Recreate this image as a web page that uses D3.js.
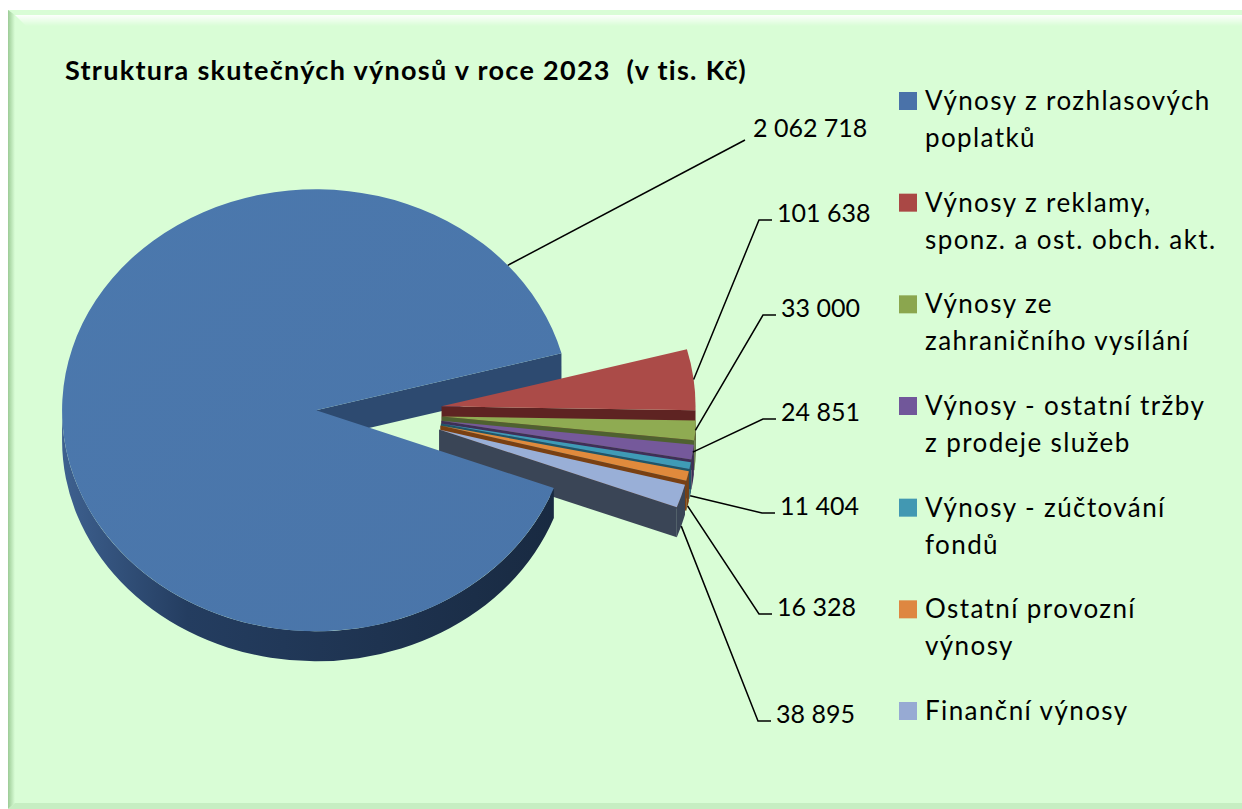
<!DOCTYPE html>
<html>
<head>
<meta charset="utf-8">
<script src="https://cdn.jsdelivr.net/npm/d3@7"></script>
<style>
  body { margin: 0; background: #ffffff; }
  svg { display: block; }
  text { font-family: Lato, "Open Sans", sans-serif; fill: #000; }
</style>
</head>
<body>
<div id="container"></div>
<script>
let w = 1242;
let h = 809;

// DATA
let categories = [
  "Výnosy z rozhlasových poplatků",
  "Výnosy z reklamy, sponz. a ost. obch. akt.",
  "Výnosy ze zahraničního vysílání",
  "Výnosy - ostatní tržby z prodeje služeb",
  "Výnosy - zúčtování fondů",
  "Ostatní provozní výnosy",
  "Finanční výnosy"
];
let legendLines = [
  ["Výnosy z rozhlasových", "poplatků"],
  ["Výnosy z reklamy,", "sponz. a ost. obch. akt."],
  ["Výnosy ze", "zahraničního vysílání"],
  ["Výnosy - ostatní tržby", "z prodeje služeb"],
  ["Výnosy - zúčtování", "fondů"],
  ["Ostatní provozní", "výnosy"],
  ["Finanční výnosy"]
];
let values = [2062718, 101638, 33000, 24851, 11404, 16328, 38895];

// colours (top face, walls, legend)
let faceColors = ["#4a77ab", "#ab4b48", "#8fab52", "#75599b", "#3f9bb6", "#e08a3c", "#99afd7"];
let wallColors = ["#2d4a70", "#5e2322", "#4f6130", "#3f2f57", "#1f5668", "#7a4012", "#3a4556"];
let legendColors = ["#4a72a9", "#aa4845", "#8ba64e", "#71579a", "#4298b2", "#de8741", "#97aad3"];

// label placement (text left x, text middle y)
let labelPos = [
  {x: 753, y: 128, ang: -41, wall: false, tail: false},
  {x: 777, y: 213, wall: false, tail: true},
  {x: 781, y: 308, wall: false, tail: true},
  {x: 781, y: 412, wall: false, tail: true},
  {x: 780, y: 506, wall: true, tail: true},
  {x: 777, y: 607, wall: true, tail: true},
  {x: 776, y: 714, wall: true, tail: true}
];

let viz = d3.select("#container").append("svg")
  .attr("width", w)
  .attr("height", h);

let defs = viz.append("defs");

// FRAME
let lg = defs.append("linearGradient").attr("id", "leftBevel");
lg.append("stop").attr("offset", "0%").attr("stop-color", "#9ccb96");
lg.append("stop").attr("offset", "100%").attr("stop-color", "#d9fdd6");
let tg = defs.append("linearGradient").attr("id", "topBevel")
  .attr("x1", 0).attr("y1", 0).attr("x2", 0).attr("y2", 1);
tg.append("stop").attr("offset", "0%").attr("stop-color", "#ffffff").attr("stop-opacity", 0.95);
tg.append("stop").attr("offset", "100%").attr("stop-color", "#ffffff").attr("stop-opacity", 0);

viz.append("rect").attr("x", 0).attr("y", 0).attr("width", w).attr("height", h).attr("fill", "#ffffff");
viz.append("rect").attr("x", 8).attr("y", 10).attr("width", w - 8).attr("height", h - 10).attr("fill", "#d9fdd6");
viz.append("path").attr("d", "M8,10L15,15L15,803L8,809Z").attr("fill", "url(#leftBevel)");
viz.append("path").attr("d", "M15,15L1242,15L1242,26L26,26Z").attr("fill", "url(#topBevel)");
viz.append("path").attr("d", "M15,803L1242,803L1242,809L8,809Z").attr("fill", "#c6eec2");

// TITLE
viz.append("text")
  .attr("x", 65)
  .attr("y", 80)
  .attr("font-size", 27)
  .attr("font-weight", "bold")
  .attr("letter-spacing", 1.3)
  .style("white-space", "pre")
  .text("Struktura skutečných výnosů v roce 2023  (v tis. Kč)");

// PIE GEOMETRY
let cx0 = 379, cy0 = 413, rx = 254, ry = 221, depth = 30, explode = 63;
let start = 110.6 * Math.PI / 180;
let pie = d3.pie().sort(null).value(d => d).startAngle(start).endAngle(start + 2 * Math.PI);

let slices = pie(values).map(function(a, i) {
  let t0 = a.startAngle - Math.PI / 2;
  let t1 = a.endAngle - Math.PI / 2;
  let tm = (t0 + t1) / 2;
  return {
    i: i, t0: t0, t1: t1, tm: tm,
    cx: cx0 + explode * Math.cos(tm),
    cy: cy0 + explode * (ry / rx) * Math.sin(tm)
  };
});

function P(s, t, dz) {
  return [s.cx + rx * Math.cos(t), s.cy + ry * Math.sin(t) + (dz || 0)];
}
function topPath(s) {
  let a = P(s, s.t0), b = P(s, s.t1);
  let large = (s.t1 - s.t0) > Math.PI ? 1 : 0;
  return "M" + s.cx + "," + s.cy + "L" + a + "A" + rx + "," + ry + " 0 " + large + " 1 " + b + "Z";
}
function wallPath(s, a0, a1) {
  let p0 = P(s, a0), p1 = P(s, a1), q1 = P(s, a1, depth), q0 = P(s, a0, depth);
  let large = (a1 - a0) > Math.PI ? 1 : 0;
  return "M" + p0 + "A" + rx + "," + ry + " 0 " + large + " 1 " + p1 +
    "L" + q1 + "A" + rx + "," + ry + " 0 " + large + " 0 " + q0 + "Z";
}
function cutPath(s, t) {
  let p = P(s, t), q = P(s, t, depth);
  return "M" + s.cx + "," + s.cy + "L" + p + "L" + q + "L" + s.cx + "," + (s.cy + depth) + "Z";
}
// visible front parts of the outer wall (sin > 0)
function frontRanges(s) {
  let out = [];
  [[0, Math.PI], [2 * Math.PI, 3 * Math.PI]].forEach(function(r) {
    let a = Math.max(s.t0, r[0]), b = Math.min(s.t1, r[1]);
    if (b > a) out.push([a, b]);
  });
  return out;
}

// gradient for big slice side
let sg = defs.append("linearGradient").attr("id", "bigSide")
  .attr("gradientUnits", "userSpaceOnUse")
  .attr("x1", 60).attr("y1", 0).attr("x2", 570).attr("y2", 0);
sg.append("stop").attr("offset", "0%").attr("stop-color", "#3e6190");
sg.append("stop").attr("offset", "25%").attr("stop-color", "#243d60");
sg.append("stop").attr("offset", "100%").attr("stop-color", "#182940");

let fg = defs.append("linearGradient").attr("id", "bigFace")
  .attr("x1", 0).attr("y1", 0).attr("x2", 1).attr("y2", 1);
fg.append("stop").attr("offset", "0%").attr("stop-color", "#4b78ad");
fg.append("stop").attr("offset", "100%").attr("stop-color", "#4a75a9");

let pieG = viz.append("g");
let big = slices[0];

// 1) cut wall of the big slice facing the gap
if (Math.cos(big.t1) > 0) {
  pieG.append("path").attr("d", cutPath(big, big.t1)).attr("fill", wallColors[0]);
}

// 2) small slices, back to front
slices.slice(1).forEach(function(s) {
  frontRanges(s).forEach(function(r) {
    pieG.append("path").attr("d", wallPath(s, r[0], r[1])).attr("fill", wallColors[s.i]);
  });
  if (Math.cos(s.t1) > 0) {
    pieG.append("path").attr("d", cutPath(s, s.t1)).attr("fill", wallColors[s.i]);
  }
  pieG.append("path").attr("d", topPath(s)).attr("fill", faceColors[s.i]);
});

// 3) big slice side and face
frontRanges(big).forEach(function(r) {
  pieG.append("path").attr("d", wallPath(big, r[0], r[1])).attr("fill", "url(#bigSide)");
});
pieG.append("path").attr("d", topPath(big)).attr("fill", "url(#bigFace)");

// LABELS
let fmt = d3.formatLocale({decimal: ",", thousands: " ", grouping: [3], currency: ["", " Kč"]}).format(",d");

let labelG = viz.append("g");
slices.forEach(function(s) {
  let L = labelPos[s.i];
  let t = L.ang !== undefined ? L.ang * Math.PI / 180 : s.tm;
  let p0 = P(s, t, L.wall ? depth : 0);
  let pts;
  if (L.tail) {
    pts = [p0, [L.x - 18, L.y + 7], [L.x - 5, L.y + 7]];
  } else {
    pts = [p0, [L.x - 8, L.y + 12]];
  }
  labelG.append("path")
    .attr("d", d3.line()(pts))
    .attr("fill", "none")
    .attr("stroke", "#000")
    .attr("stroke-width", 1.5);
  labelG.append("text")
    .attr("x", L.x)
    .attr("y", L.y + 9)
    .attr("font-size", 25)
    .text(fmt(values[s.i]));
});

// LEGEND
let legendScale = d3.scaleLinear().domain([0, categories.length - 1]).range([110, 720]);
let legend = viz.append("g");
categories.forEach(function(c, i) {
  let y0 = legendScale(i);
  legend.append("rect")
    .attr("x", 899)
    .attr("y", y0 - 18)
    .attr("width", 18)
    .attr("height", 18)
    .attr("fill", legendColors[i]);
  let t = legend.append("text").attr("x", 925).attr("y", y0)
    .attr("font-size", 26).attr("letter-spacing", 1.4);
  legendLines[i].forEach(function(line, j) {
    t.append("tspan").attr("x", 925).attr("dy", j === 0 ? 0 : 37).text(line);
  });
});
</script>
</body>
</html>
